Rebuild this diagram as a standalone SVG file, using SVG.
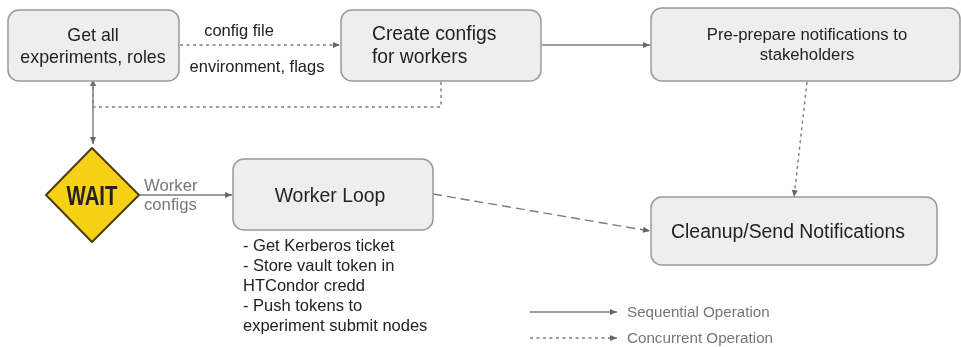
<svg xmlns="http://www.w3.org/2000/svg" width="961" height="347" viewBox="0 0 961 347">
<defs>
<marker id="arr" markerUnits="userSpaceOnUse" markerWidth="10" markerHeight="8" refX="8" refY="4" orient="auto"><path d="M1 1L8 4L1 7Z" fill="#666"/></marker>
<filter id="soft" x="-5%" y="-5%" width="110%" height="110%"><feGaussianBlur stdDeviation="0.55"/></filter>
</defs>
<style>
text{font-family:"Liberation Sans",Arial,sans-serif;fill:#222}
.box{fill:#eeeeee;stroke:#999;stroke-width:1.5}
.c{fill:none;stroke:#7d7d7d;stroke-width:1.4}
.dot{stroke-dasharray:3 3.5}
.dash{stroke-dasharray:9 5}
.m{text-anchor:middle}
.g{fill:#777}
</style>
<rect width="961" height="347" fill="#fff"/>
<g filter="url(#soft)">
<g id="connectors">
<path class="c dot" d="M180 45H340" marker-end="url(#arr)"/>
<path class="c" d="M542 45H650" marker-end="url(#arr)"/>
<path class="c dot" d="M441 82V107H93V79" marker-end="url(#arr)"/>
<path class="c" d="M93 80V144" marker-end="url(#arr)"/>
<path class="c" d="M140 195H232" marker-end="url(#arr)"/>
<path class="c dash" d="M433 194L650 231" marker-end="url(#arr)"/>
<path class="c dot" d="M807 82L794 197" marker-end="url(#arr)"/>
<path class="c" d="M530 312H617" marker-end="url(#arr)"/>
<path class="c dot" d="M530 338H617" marker-end="url(#arr)"/>
</g>
<g id="n-experiments"><rect class="box" x="8" y="10" width="171" height="71" rx="11"/><text class="m" x="93" y="41" font-size="17.800">Get all</text><text class="m" x="93" y="63" font-size="17.800">experiments, roles</text></g>
<g id="n-configs"><rect class="box" x="341" y="10" width="200" height="71" rx="11"/><text x="372" y="40" font-size="19.300">Create configs</text><text x="372" y="63" font-size="19.300">for workers</text></g>
<g id="n-prepare"><rect class="box" x="651" y="8" width="309" height="73" rx="11"/><text class="m" x="807" y="40" font-size="16.700">Pre-prepare notifications to</text><text class="m" x="807" y="60" font-size="16.700">stakeholders</text></g>
<g id="n-wait"><path d="M92 148L139 195L92 242L46 195Z" fill="#f6d117" stroke="#4a3d08" stroke-width="2" stroke-linejoin="round"/><text class="m" x="92" y="205" font-size="28" font-weight="bold" textLength="51" lengthAdjust="spacingAndGlyphs">WAIT</text></g>
<g id="n-worker"><rect class="box" x="233" y="159" width="200" height="71" rx="11"/><text class="m" x="330" y="202" font-size="19.400">Worker Loop</text></g>
<g id="n-cleanup"><rect class="box" x="651" y="197" width="286" height="68" rx="11"/><text class="m" x="788" y="238" font-size="19.400">Cleanup/Send Notifications</text></g>
<g id="labels">
<text class="m" x="239" y="36" font-size="16.500">config file</text>
<text class="m" x="257" y="72" font-size="16.500">environment, flags</text>
<text class="g" x="144" y="191" font-size="16.700">Worker</text>
<text class="g" x="144" y="210" font-size="16.700">configs</text>
<text x="243" y="251" font-size="16.500">- Get Kerberos ticket</text>
<text x="243" y="271" font-size="16.500">- Store vault token in</text>
<text x="243" y="291" font-size="16.500">HTCondor credd</text>
<text x="243" y="311" font-size="16.500">- Push tokens to</text>
<text x="243" y="331" font-size="16.500">experiment submit nodes</text>
<text class="g" x="627" y="317" font-size="15.200">Sequential Operation</text>
<text class="g" x="627" y="343" font-size="15.200">Concurrent Operation</text>
</g>
</g>
</svg>
